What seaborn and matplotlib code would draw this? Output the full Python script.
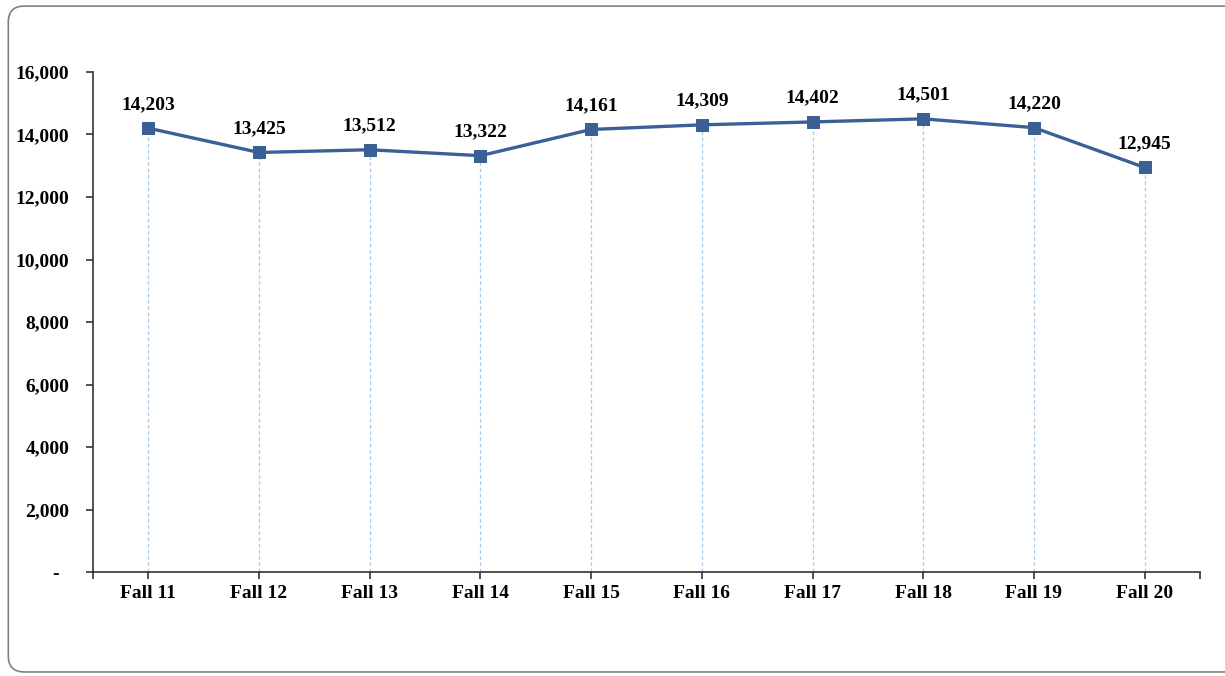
import matplotlib.pyplot as plt
import matplotlib.patches as patches
import matplotlib.ticker as mticker
import numpy as np
import pandas as pd
import seaborn as sns

# Data, ...........................................................
terms = ["Fall 11", "Fall 12", "Fall 13", "Fall 14", "Fall 15",
         "Fall 16", "Fall 17", "Fall 18", "Fall 19", "Fall 20"]
enrollment = [14203, 13425, 13512, 13322, 14161, 14309, 14402, 14501, 14220, 12945]
y_ticks = [0, 2000, 4000, 6000, 8000, 10000, 12000, 14000, 16000]

df = pd.DataFrame({"term": terms, "enrollment": enrollment})
df["pos"] = np.arange(len(df))

line_color = "#3A6096"
drop_color = "#A9CBEA"

sns.set_style("white")
plt.rcParams["font.family"] = ["Liberation Serif", "DejaVu Serif"]
plt.rcParams["font.weight"] = "bold"

# Figure, ..........................................................
fig = plt.figure(figsize=(12.25, 6.76), dpi=100, facecolor="white")
ax = fig.add_axes([0.0759, 0.1538, 0.9037, 0.7397])

# rounded frame around the chart
frame = patches.FancyBboxPatch(
    (0.0068, 0.006), 1.05, 0.985,
    boxstyle="round,pad=0,rounding_size=0.013",
    transform=fig.transFigure, facecolor="none",
    edgecolor="#808080", linewidth=1.2, mutation_aspect=1.81
)
fig.patches.append(frame)

# drop lines
ax.vlines(df["pos"], 0, df["enrollment"], colors=drop_color,
          linestyles=(0, (3, 2)), linewidth=0.9, zorder=1)

sns.lineplot(data=df, x="pos", y="enrollment", ax=ax, color=line_color,
             linewidth=2.4, marker="s", markersize=8,
             markeredgecolor=line_color, zorder=3)

# value labels
for x, y in zip(df["pos"], df["enrollment"]):
    ax.annotate(f"{y:,}", (x, y), xytext=(0, 11), textcoords="offset points",
                ha="center", va="bottom", fontsize=14, fontweight="bold",
                color="black")

# Axes, ............................................................
ax.set_xlim(-0.5, len(terms) - 0.5)
ax.set_ylim(0, 16000)
ax.set_xticks(df["pos"])
ax.set_xticklabels(terms)
ax.set_xticks([-0.5, len(terms) - 0.5], minor=True)
ax.set_yticks(y_ticks)
ax.yaxis.set_major_formatter(
    mticker.FuncFormatter(lambda v, p: "-  " if v == 0 else f"{int(v):,}"))
ax.set_xlabel("")
ax.set_ylabel("")

for lab in ax.get_xticklabels() + ax.get_yticklabels():
    lab.set_fontweight("bold")
    lab.set_fontsize(14)

ax.spines["top"].set_visible(False)
ax.spines["right"].set_visible(False)
ax.spines["left"].set_color("#333333")
ax.spines["bottom"].set_color("#333333")
ax.spines["left"].set_linewidth(1.2)
ax.spines["bottom"].set_linewidth(1.2)
ax.tick_params(axis="both", which="both", direction="out", length=5,
               width=1.2, colors="#333333", labelcolor="black",
               bottom=True, left=True)
ax.tick_params(axis="x", pad=4)
ax.tick_params(axis="y", pad=12)
ax.grid(False)

fig.savefig("out.png", dpi=100, facecolor="white")
